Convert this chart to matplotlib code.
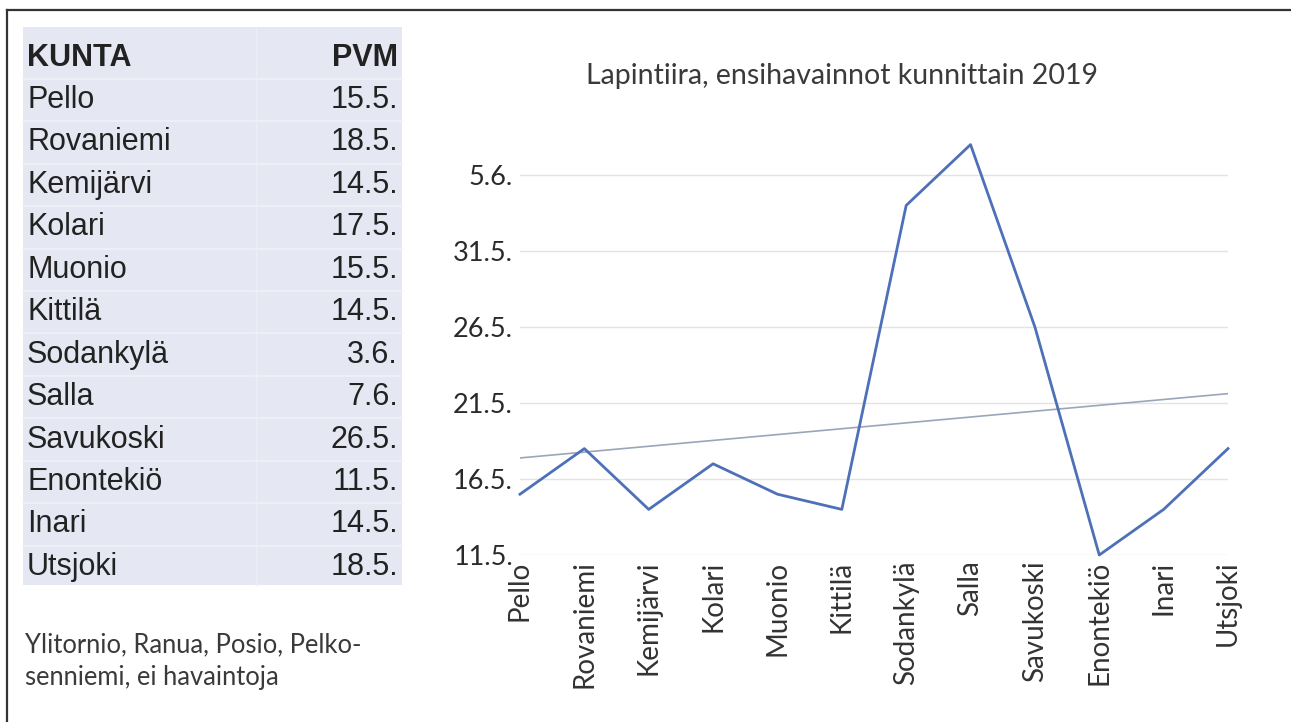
import numpy as np
import matplotlib
matplotlib.use("Agg")
import matplotlib.pyplot as plt
from matplotlib.patches import Rectangle
from matplotlib.lines import Line2D
from matplotlib.ticker import FixedLocator, FuncFormatter

# kunnat ja ensihavaintopäivät
kunnat = ["Pello", "Rovaniemi", "Kemijärvi", "Kolari", "Muonio", "Kittilä",
          "Sodankylä", "Salla", "Savukoski", "Enontekiö", "Inari", "Utsjoki"]
pvm = ["15.5.", "18.5.", "14.5.", "17.5.", "15.5.", "14.5.",
       "3.6.", "7.6.", "26.5.", "11.5.", "14.5.", "18.5."]
akselin_pvm = ["11.5.", "16.5.", "21.5.", "26.5.", "31.5.", "5.6."]
otsikko = "Lapintiira, ensihavainnot kunnittain 2019"
huomio = "Ylitornio, Ranua, Posio, Pelko-\nsenniemi, ei havaintoja"


def paiviksi(s):
    # päivä toukokuun alusta laskien
    d, m = [int(v) for v in s.strip(".").split(".")]
    return d + (31 if m == 6 else 0)


def pvmksi(p):
    p = int(round(p))
    return f"{p}.5." if p <= 31 else f"{p - 31}.6."


W, H = 1291, 722
fig = plt.figure(figsize=(W / 100, H / 100), dpi=100)
fig.patch.set_facecolor("white")


def fx(x):
    return x / W


def fy(y):
    return 1 - y / H


# kehys ylä- ja vasemmalla reunalla
fig.add_artist(Line2D([fx(7), 1], [fy(10), fy(10)], color="#333333", lw=1.6))
fig.add_artist(Line2D([fx(7), fx(7)], [fy(10), 0], color="#333333", lw=1.6))

# taulukko
fig.add_artist(Rectangle((fx(23), fy(585)), fx(402) - fx(23), fy(27) - fy(585),
                         transform=fig.transFigure, facecolor="#e5e8f2",
                         edgecolor="none"))
y0, step = 57.5, 42.45
for i in range(12):
    yl = y0 + step * (i + 0.5)
    fig.add_artist(Line2D([fx(23), fx(402)], [fy(yl), fy(yl)],
                          color="#eff1f7", lw=1.2))
fig.add_artist(Line2D([fx(256), fx(256)], [fy(27), fy(585)], color="#eceef5", lw=1.0))

tfont = dict(family="Liberation Sans", fontsize=22, color="#222222")
fig.text(fx(27), fy(y0), "KUNTA", ha="left", va="center", weight="bold", **tfont)
fig.text(fx(398), fy(y0), "PVM", ha="right", va="center", weight="bold", **tfont)
for i, (k, p) in enumerate(zip(kunnat, pvm)):
    yy = fy(y0 + step * (i + 1))
    fig.text(fx(27), yy, k, ha="left", va="center", **tfont)
    fig.text(fx(398), yy, p, ha="right", va="center", **tfont)

fig.text(fx(25), fy(661), huomio, ha="left", va="center", family="Lato",
         fontsize=18.4, color="#3a3a3a", linespacing=1.35)

# kuvaaja
ax = fig.add_axes([fx(520), fy(555), fx(1228) - fx(520), fy(137) - fy(555)])
x = np.arange(len(kunnat))
y = np.array([paiviksi(p) for p in pvm])
ticks = [paiviksi(t) for t in akselin_pvm]

ax.set_xlim(0, len(kunnat) - 1)
ax.set_ylim(ticks[0], 38.5)
ax.yaxis.set_major_locator(FixedLocator(ticks))
ax.yaxis.set_major_formatter(FuncFormatter(lambda v, _: pvmksi(v)))
ax.grid(axis="y", color="#e3e3e3", lw=1.0)
ax.set_axisbelow(True)
for s in ax.spines.values():
    s.set_visible(False)
ax.tick_params(axis="both", length=0)
ax.tick_params(axis="y", pad=5, labelsize=19.5, labelcolor="#2a2a2a")
ax.tick_params(axis="x", pad=4, labelsize=20, labelcolor="#333333")
ax.set_xticks(x)
ax.set_xticklabels(kunnat, rotation=90, va="top", ha="center")
for lab in ax.get_xticklabels() + ax.get_yticklabels():
    lab.set_family("Lato")

ax.plot(x, y, color="#4d70b8", lw=2.0, clip_on=False, zorder=3)
k, b = np.polyfit(x, y, 1)
ax.plot(x, k * x + b, color="#9ba6ba", lw=1.2, zorder=2)

fig.text(fx(842), fy(76), otsikko, ha="center", va="center", family="Lato",
         fontsize=20.5, color="#3a3a3a")

fig.savefig("out.png", dpi=100, facecolor="white")
